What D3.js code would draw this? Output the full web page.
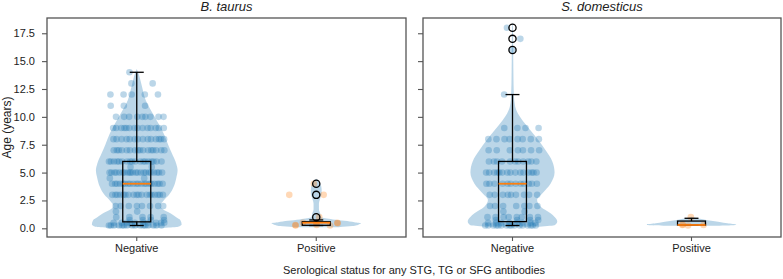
<!doctype html>
<html>
<head>
<meta charset="utf-8">
<script src="https://d3js.org/d3.v7.min.js"></script>
<style>
  body { margin: 0; background: #fff; }
  text { font-family: "Liberation Sans", Arial, sans-serif; fill: #222; }
</style>
</head>
<body>
<script>
// categories, panels, ticks
var groups = ["Negative", "Positive"];
var species = ["B. taurus", "S. domesticus"];
var yTicks = [0, 2.5, 5, 7.5, 10, 12.5, 15, 17.5];

// ages (years) of the dots: value rows and number of dots on each row
var taurusNegVals   = [0.25, 0.5, 0.75, 1, 1.5, 2, 3, 4, 4.5, 5, 5.5, 6, 7, 8, 9, 10, 11, 12, 13, 14];
var taurusNegCounts = [16,   10,  4,    5, 2,   8, 18, 20, 2,  22, 2,  18, 16, 14, 14, 9, 3,  5,  2,  1];
var taurusPosVals   = [0.25, 0.3, 0.45, 0.5, 1, 3, 4];
var taurusPosCounts = [2,    2,   2,    2,   1, 2, 1];
var domNegVals      = [0.25, 0.5, 0.75, 1, 1.5, 2, 3, 4, 5, 6, 7, 8, 9, 12, 16, 17, 18];
var domNegCounts    = [16,   8,   4,    8, 2,   7, 9, 12, 15, 11, 7, 8, 4, 1,  1,  1,  1];
var domPosVals      = [0.25, 0.3, 0.35, 1];
var domPosCounts    = [1,    2,   1,    1];

// box stats: whisker low, q1, median, q3, whisker high
var taurusNegBox = [0.25, 0.58, 4, 6, 14];
var taurusPosBox = [0.25, 0.27, 0.5, 0.59, 0.75];
var domNegBox    = [0.25, 0.6, 4, 6, 12];
var domPosBox    = [0.3, 0.3, 0.3, 0.65, 0.9];
var taurusNegFliers = [];
var taurusPosFliers = [1, 3, 4];
var domNegFliers    = [16, 17, 18];
var domPosFliers    = [];

// violin outlines: age and relative half width
var taurusNegVAge = [0.05, 0.15, 0.35, 0.75, 1.0, 1.35, 1.7, 2.0, 2.5, 3.0, 3.7, 4.5, 5.2, 5.8, 6.75, 7.5, 8.5, 10, 11.5, 13, 14, 14.3];
var taurusNegVW   = [0.6,  0.92, 1.0,  0.97, 0.88, 0.75, 0.58, 0.52, 0.6, 0.72, 0.82, 0.88, 0.91, 0.88, 0.78, 0.7, 0.6, 0.4, 0.2, 0.1, 0.03, 0];
var taurusPosVAge = [0.1, 0.2, 0.35, 0.45, 0.55, 0.68, 0.8, 0.9, 1.0, 1.3, 1.7, 2.2, 2.7, 3.1, 3.5, 4.0, 4.3, 4.45];
var taurusPosVW   = [0.5, 0.8, 0.95, 1.0,  0.85, 0.63, 0.37, 0.2, 0.11, 0.09, 0.06, 0.06, 0.09, 0.12, 0.12, 0.09, 0.04, 0];
var domNegVAge = [0.15, 0.3, 0.6, 1.35, 1.94, 2.54, 3.14, 4.0, 5.0, 6.0, 7.0, 7.9, 8.8, 9.7, 10.3, 10.9, 12, 14, 16, 18, 18.5];
var domNegVW   = [0.6,  0.95, 1.0, 0.85, 0.63, 0.55, 0.67, 0.85, 0.94, 0.89, 0.74, 0.58, 0.4, 0.22, 0.12, 0.06, 0.03, 0.02, 0.015, 0.01, 0];
var domPosVAge = [0.22, 0.27, 0.33, 0.45, 0.57, 0.75, 0.9, 1.0, 1.03];
var domPosVW   = [0.5,  0.9,  1.0,  0.8,  0.63, 0.33, 0.13, 0.03, 0];

var panelData = [
  [
    {vals: taurusNegVals, counts: taurusNegCounts, box: taurusNegBox, fliers: taurusNegFliers, vAge: taurusNegVAge, vW: taurusNegVW},
    {vals: taurusPosVals, counts: taurusPosCounts, box: taurusPosBox, fliers: taurusPosFliers, vAge: taurusPosVAge, vW: taurusPosVW}
  ],
  [
    {vals: domNegVals, counts: domNegCounts, box: domNegBox, fliers: domNegFliers, vAge: domNegVAge, vW: domNegVW},
    {vals: domPosVals, counts: domPosCounts, box: domPosBox, fliers: domPosFliers, vAge: domPosVAge, vW: domPosVW}
  ]
];

var width = 783, height = 279;
var plotTop = 18, plotBottom = 237;
var panels = [[47, 406], [423, 781]];
var colors = ["#1f77b4", "#ff7f0e"];

var svg = d3.select("body").append("svg")
  .attr("width", width)
  .attr("height", height);

var y = d3.scaleLinear().domain([-0.78, 18.87]).range([plotBottom, plotTop]);

panels.forEach(function (p, pi) {
  var x = d3.scaleBand().domain(groups).range([p[0], p[1]]).padding(0);
  var bw = x.bandwidth();
  var g = svg.append("g");

  groups.forEach(function (cat, ci) {
    var d = panelData[pi][ci];
    var cx = x(cat) + bw / 2;
    var half = 0.25 * bw;

    // violin
    var outline = d.vAge.map(function (a, i) { return [a, d.vW[i]]; });
    var area = d3.area()
      .curve(d3.curveMonotoneY)
      .y(function (v) { return y(v[0]); })
      .x0(function (v) { return cx - v[1] * half; })
      .x1(function (v) { return cx + v[1] * half; });
    g.append("path")
      .attr("d", area(outline))
      .attr("fill", "#1f77b4")
      .attr("fill-opacity", 0.3);

    // jittered dots (single dots sit closer to the middle)
    var pts = [];
    d.vals.forEach(function (v, ri) {
      var n = d.counts[ri];
      var amp = n === 1 ? 0.06 : 0.155;
      for (var j = 0; j < n; j++) {
        var f = (j * 0.618034 + ri * 0.377 + pi * 0.21 + ci * 0.13) % 1;
        pts.push({age: v, off: (f - 0.5) * 2 * amp * bw});
      }
    });
    g.selectAll(null).data(pts).enter().append("circle")
      .attr("cx", function (q) { return cx + q.off; })
      .attr("cy", function (q) { return y(q.age); })
      .attr("r", 3.3)
      .attr("fill", colors[ci])
      .attr("fill-opacity", 0.3);

    // box and whiskers
    var b = d.box;
    var boxW = 0.156 * bw, capW = 0.078 * bw;
    g.append("line").attr("x1", cx).attr("x2", cx).attr("y1", y(b[3])).attr("y2", y(b[4]))
      .attr("stroke", "#000").attr("stroke-width", 1.3);
    g.append("line").attr("x1", cx).attr("x2", cx).attr("y1", y(b[1])).attr("y2", y(b[0]))
      .attr("stroke", "#000").attr("stroke-width", 1.3);
    [b[0], b[4]].forEach(function (w) {
      g.append("line").attr("x1", cx - capW / 2).attr("x2", cx + capW / 2)
        .attr("y1", y(w)).attr("y2", y(w))
        .attr("stroke", "#000").attr("stroke-width", 1.3);
    });
    g.append("rect")
      .attr("x", cx - boxW / 2).attr("width", boxW)
      .attr("y", y(b[3])).attr("height", y(b[1]) - y(b[3]))
      .attr("fill", "none").attr("stroke", "#000").attr("stroke-width", 1.3);
    g.append("line").attr("x1", cx - boxW / 2).attr("x2", cx + boxW / 2)
      .attr("y1", y(b[2])).attr("y2", y(b[2]))
      .attr("stroke", "#ff7f0e").attr("stroke-width", 1.8);

    g.selectAll(null).data(d.fliers).enter().append("circle")
      .attr("cx", cx).attr("cy", function (v) { return y(v); })
      .attr("r", 3.6)
      .attr("fill", "none").attr("stroke", "#000").attr("stroke-width", 1.3);
  });

  // axes
  var yAxis = d3.axisLeft(y).tickValues(yTicks).tickSize(5).tickPadding(7)
    .tickFormat(pi === 0 ? d3.format(".1f") : "");
  var ya = svg.append("g").attr("transform", "translate(" + p[0] + ",0)").call(yAxis);
  var xAxis = d3.axisBottom(x).tickSize(4).tickPadding(3);
  var xa = svg.append("g").attr("transform", "translate(0," + plotBottom + ")").call(xAxis);
  [ya, xa].forEach(function (a) {
    a.select(".domain").remove();
    a.selectAll(".tick line").attr("stroke", "#555").attr("stroke-width", 1.1);
    a.selectAll("text").attr("font-size", 11).attr("fill", "#222")
      .style("font-family", '"Liberation Sans", Arial, sans-serif');
  });

  // frame
  svg.append("rect")
    .attr("x", p[0]).attr("y", plotTop)
    .attr("width", p[1] - p[0]).attr("height", plotBottom - plotTop)
    .attr("fill", "none").attr("stroke", "#555").attr("stroke-width", 1.3);

  // panel title
  svg.append("text")
    .attr("x", (p[0] + p[1]) / 2).attr("y", 11)
    .attr("text-anchor", "middle")
    .attr("font-size", 13)
    .attr("font-style", "italic")
    .text(species[pi]);
});

svg.append("text")
  .attr("transform", "translate(10.5," + (plotTop + plotBottom) / 2 + ") rotate(-90)")
  .attr("text-anchor", "middle")
  .attr("font-size", 12)
  .text("Age (years)");

svg.append("text")
  .attr("x", (panels[0][0] + panels[1][1]) / 2).attr("y", 274)
  .attr("text-anchor", "middle")
  .attr("font-size", 11)
  .text("Serological status for any STG, TG or SFG antibodies");
</script>
</body>
</html>
